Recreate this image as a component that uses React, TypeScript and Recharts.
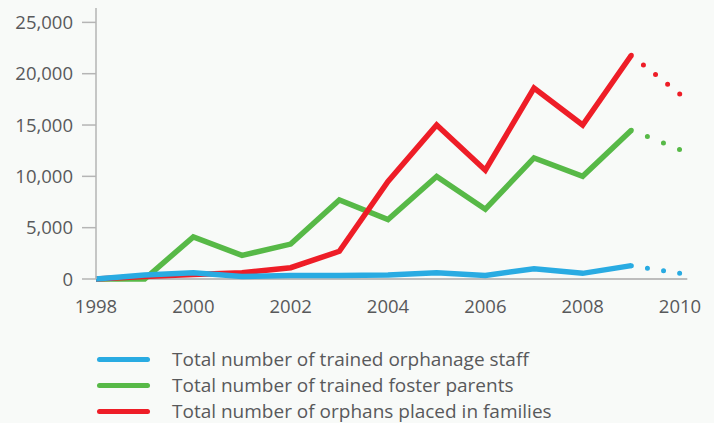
import { LineChart, Line, XAxis, YAxis, ReferenceLine } from 'recharts';

const years = [1998, 1999, 2000, 2001, 2002, 2003, 2004, 2005, 2006, 2007, 2008, 2009, 2010];
const staff = [0, 400, 600, 250, 350, 350, 400, 600, 350, 1000, 550, 1300];
const foster = [0, 0, 4100, 2300, 3400, 7700, 5800, 10000, 6800, 11800, 10000, 14500];
const orphans = [0, 250, 450, 600, 1100, 2700, 9500, 15000, 10600, 18600, 15000, 21800];
const staffProjected = 550;
const fosterProjected = 12600;
const orphansProjected = 18000;
const yTicks = [0, 5000, 10000, 15000, 20000, 25000];
const xTicks = [1998, 2000, 2002, 2004, 2006, 2008, 2010];

const BLUE = '#29abe2';
const GREEN = '#57b947';
const RED = '#ee1d27';
const TEXT = '#58595b';
const FONT = '"Open Sans", sans-serif';

const last = staff.length - 1;
const data = years.map((year, i) => ({
  year,
  staff: i <= last ? staff[i] : null,
  foster: i <= last ? foster[i] : null,
  orphans: i <= last ? orphans[i] : null,
  staffProj: i === last ? staff[last] : i === last + 1 ? staffProjected : null,
  fosterProj: i === last ? foster[last] : i === last + 1 ? fosterProjected : null,
  orphansProj: i === last ? orphans[last] : i === last + 1 ? orphansProjected : null,
}));

const legendItems = [
  { label: 'Total number of trained orphanage staff', color: BLUE },
  { label: 'Total number of trained foster parents', color: GREEN },
  { label: 'Total number of orphans placed in families', color: RED },
];

export default function App() {
  const tick = { fill: TEXT, fontSize: 18.5, fontFamily: FONT };
  return (
    <div style={{ position: 'absolute', left: 0, top: 0, width: 714, height: 423, background: '#f8faf8' }}>
      <LineChart width={714} height={423} data={data} margin={{ top: 8, right: 34, bottom: 114, left: 0 }}>
        <XAxis
          dataKey="year" type="number" domain={[1998, 2010]} ticks={xTicks}
          axisLine={false} tickLine={false} tickSize={0} tickMargin={21} tick={tick}
        />
        <YAxis
          type="number" domain={[0, 26400]} ticks={yTicks} width={96}
          tickFormatter={(v: number) => v.toLocaleString('en-US')}
          axisLine={{ stroke: '#b5b5b5', strokeWidth: 1.5 }}
          tickLine={{ stroke: '#b5b5b5', strokeWidth: 1.5 }}
          tickSize={14} tickMargin={9} tick={tick}
        />
        <ReferenceLine
          segment={[{ x: 1998, y: 0 }, { x: 2010.15, y: 0 }]}
          stroke="#bdbdbd" strokeWidth={2} ifOverflow="visible"
        />
        <Line dataKey="foster" stroke={GREEN} strokeWidth={5.5} dot={false} isAnimationActive={false} />
        <Line dataKey="fosterProj" stroke={GREEN} strokeWidth={5} strokeLinecap="round" strokeDasharray="0 17.3" dot={false} isAnimationActive={false} />
        <Line dataKey="orphans" stroke={RED} strokeWidth={5.5} dot={false} isAnimationActive={false} />
        <Line dataKey="orphansProj" stroke={RED} strokeWidth={5} strokeLinecap="round" strokeDasharray="0 15.5" dot={false} isAnimationActive={false} />
        <Line dataKey="staff" stroke={BLUE} strokeWidth={5.5} dot={false} isAnimationActive={false} />
        <Line dataKey="staffProj" stroke={BLUE} strokeWidth={5} strokeLinecap="round" strokeDasharray="0 16.3" dot={false} isAnimationActive={false} />
      </LineChart>
      {legendItems.map((item, i) => (
        <div key={item.label} style={{ position: 'absolute', left: 97, top: 359 + i * 26 - 13, height: 26, display: 'flex', alignItems: 'center' }}>
          <div style={{ width: 53, height: 5, borderRadius: 3, background: item.color }} />
          <span style={{ marginLeft: 22, fontFamily: FONT, fontSize: 19, color: TEXT, whiteSpace: 'nowrap' }}>{item.label}</span>
        </div>
      ))}
    </div>
  );
}
